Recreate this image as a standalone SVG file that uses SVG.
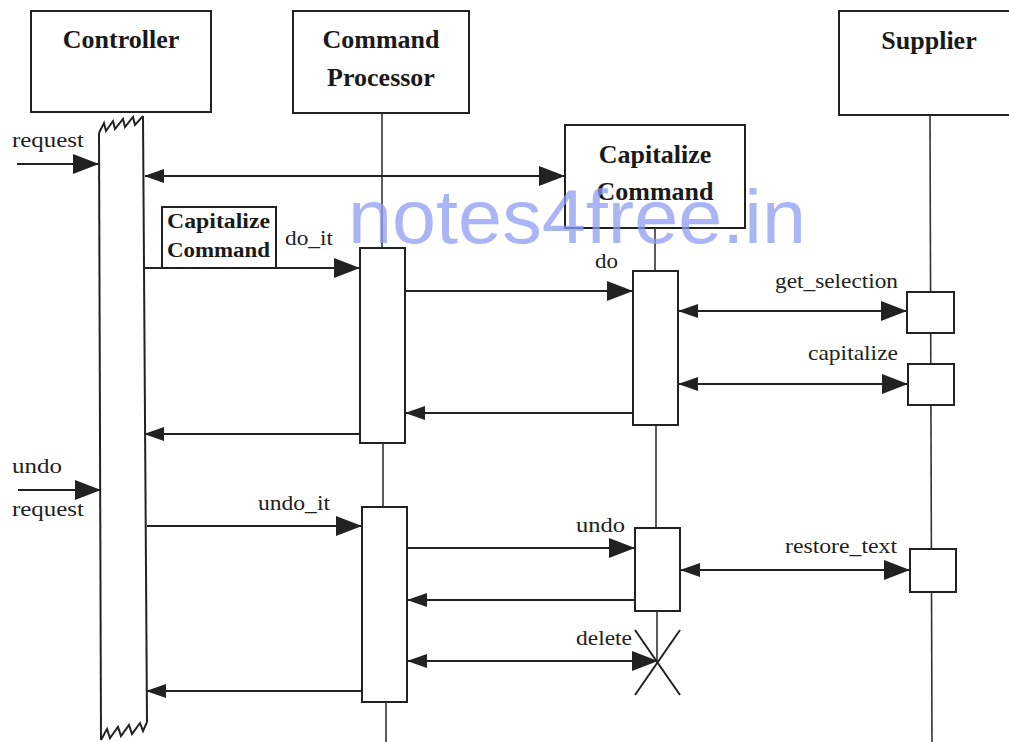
<svg xmlns="http://www.w3.org/2000/svg" width="1009" height="742" viewBox="0 0 1009 742">
<style>
.box{fill:#fff;stroke:#222;stroke-width:2}
.ln{fill:none;stroke:#222;stroke-width:2}
.life{fill:none;stroke:#333;stroke-width:1.6}
.hd{font-family:"Liberation Serif",serif;font-weight:bold;font-size:26px;fill:#1a1a1a;text-anchor:middle}
.sm{font-family:"Liberation Serif",serif;font-weight:bold;font-size:20px;fill:#1a1a1a}
.lb{font-family:"Liberation Serif",serif;font-size:21px;fill:#222}
.msg{fill:none;stroke:#222;stroke-width:2}
.wm{font-family:"Liberation Sans",Arial,sans-serif;font-size:76px;fill:#8d9cf2;fill-opacity:0.75}
</style>
<defs>
<marker id="big" markerUnits="userSpaceOnUse" markerWidth="26" markerHeight="20" refX="25" refY="10" orient="auto-start-reverse" viewBox="0 0 26 20"><path d="M0,0 L26,10 L0,20 z" fill="#222"/></marker>
<marker id="sml" markerUnits="userSpaceOnUse" markerWidth="20" markerHeight="14" refX="19" refY="7" orient="auto-start-reverse" viewBox="0 0 20 14"><path d="M0,0 L20,7 L0,14 z" fill="#222"/></marker>
</defs>

<g id="controller">
<rect class="box" x="31" y="11" width="180" height="101"/>
<text class="hd" x="121" y="48">Controller</text>
<line class="ln" x1="99" y1="133" x2="101" y2="740"/>
<line class="ln" x1="143" y1="116" x2="147" y2="722"/>
<polyline class="ln" points="99,133 104,123 106,131 113,121 115,129 123,119 125,127 133,117 135,125 143,116"/>
<polyline class="ln" points="101,740 107,729 110,738 118,727 121,736 129,725 132,734 140,723 143,731 147,722"/>
</g>

<g id="command-processor">
<rect class="box" x="293" y="11" width="176" height="102"/>
<text class="hd" x="381" y="48">Command</text>
<text class="hd" x="381" y="86">Processor</text>
<line class="life" x1="382" y1="113" x2="382" y2="248"/>
<rect class="box" x="360" y="248" width="45" height="195"/>
<line class="life" x1="383" y1="443" x2="383" y2="507"/>
<rect class="box" x="362" y="507" width="45" height="195"/>
<line class="life" x1="386" y1="702" x2="386" y2="742"/>
</g>

<g id="capitalize-command">
<rect class="box" x="565" y="125" width="180" height="103"/>
<text class="hd" x="655" y="163">Capitalize</text>
<text class="hd" x="655" y="200">Command</text>
<line class="life" x1="655" y1="228" x2="655" y2="271"/>
<rect class="box" x="633" y="271" width="45" height="154"/>
<line class="life" x1="656" y1="425" x2="656" y2="528"/>
<rect class="box" x="635" y="528" width="45" height="83"/>
<line class="life" x1="657" y1="611" x2="657" y2="662"/>
<line class="ln" x1="635" y1="630" x2="680" y2="695"/>
<line class="ln" x1="680" y1="630" x2="635" y2="695"/>
</g>

<g id="supplier">
<rect class="box" x="839" y="11" width="172" height="104"/>
<text class="hd" x="929" y="49">Supplier</text>
<line class="life" x1="930" y1="115" x2="932" y2="742"/>
<rect class="box" x="907" y="292" width="47" height="41"/>
<rect class="box" x="908" y="364" width="46" height="41"/>
<rect class="box" x="910" y="549" width="46" height="43"/>
</g>

<g id="capitalize-object">
<rect class="box" x="162" y="207" width="114" height="61"/>
<text class="sm" x="167" y="228" textLength="103" lengthAdjust="spacingAndGlyphs">Capitalize</text>
<text class="sm" x="167" y="257" textLength="103" lengthAdjust="spacingAndGlyphs">Command</text>
</g>

<g id="connectors">
<line class="msg" x1="17" y1="164" x2="98" y2="164" marker-end="url(#big)"/>
<line class="msg" x1="145" y1="176" x2="564" y2="176" marker-start="url(#sml)" marker-end="url(#big)"/>
<line class="msg" x1="145" y1="268" x2="359" y2="268" marker-end="url(#big)"/>
<line class="msg" x1="405" y1="291" x2="632" y2="291" marker-end="url(#big)"/>
<line class="msg" x1="679" y1="311" x2="906" y2="311" marker-start="url(#sml)" marker-end="url(#big)"/>
<line class="msg" x1="679" y1="384" x2="907" y2="384" marker-start="url(#sml)" marker-end="url(#big)"/>
<line class="msg" x1="633" y1="413" x2="406" y2="413" marker-end="url(#sml)"/>
<line class="msg" x1="360" y1="434" x2="145" y2="434" marker-end="url(#sml)"/>
<line class="msg" x1="18" y1="490" x2="100" y2="490" marker-end="url(#big)"/>
<line class="msg" x1="147" y1="526" x2="361" y2="526" marker-end="url(#big)"/>
<line class="msg" x1="407" y1="548" x2="634" y2="548" marker-end="url(#big)"/>
<line class="msg" x1="681" y1="570" x2="909" y2="570" marker-start="url(#sml)" marker-end="url(#big)"/>
<line class="msg" x1="635" y1="600" x2="408" y2="600" marker-end="url(#sml)"/>
<line class="msg" x1="408" y1="661" x2="657" y2="661" marker-start="url(#sml)" marker-end="url(#big)"/>
<line class="msg" x1="362" y1="691" x2="147" y2="691" marker-end="url(#sml)"/>
</g>

<g id="labels">
<text class="lb" x="12" y="147" textLength="72" lengthAdjust="spacingAndGlyphs">request</text>
<text class="lb" x="285" y="245" textLength="48" lengthAdjust="spacingAndGlyphs">do_it</text>
<text class="lb" x="595" y="268" textLength="23" lengthAdjust="spacingAndGlyphs">do</text>
<text class="lb" x="775" y="288" textLength="123" lengthAdjust="spacingAndGlyphs">get_selection</text>
<text class="lb" x="808" y="360" textLength="90" lengthAdjust="spacingAndGlyphs">capitalize</text>
<text class="lb" x="12" y="473" textLength="50" lengthAdjust="spacingAndGlyphs">undo</text>
<text class="lb" x="12" y="516" textLength="72" lengthAdjust="spacingAndGlyphs">request</text>
<text class="lb" x="258" y="510" textLength="72" lengthAdjust="spacingAndGlyphs">undo_it</text>
<text class="lb" x="576" y="532" textLength="49" lengthAdjust="spacingAndGlyphs">undo</text>
<text class="lb" x="785" y="553" textLength="112" lengthAdjust="spacingAndGlyphs">restore_text</text>
<text class="lb" x="576" y="645" textLength="56" lengthAdjust="spacingAndGlyphs">delete</text>
</g>

<text class="wm" x="348" y="243" textLength="458" lengthAdjust="spacingAndGlyphs">notes4free.in</text>
</svg>
